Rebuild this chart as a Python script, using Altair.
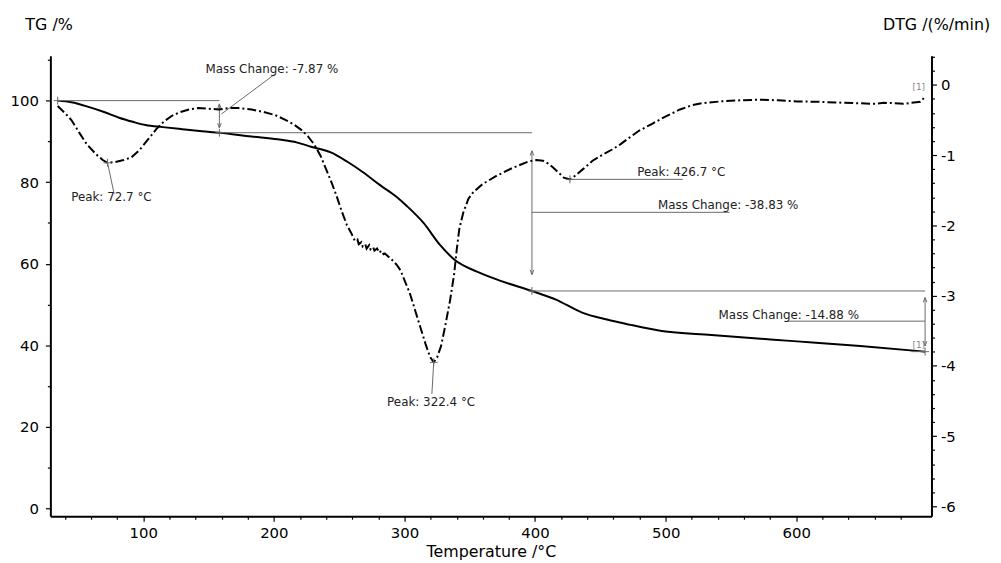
import altair as alt
import pandas as pd

FONT = "DejaVu Sans"

# ---------------- data ----------------
tg_temp = [34.5, 45, 58.7, 70, 81.5, 92, 101.8, 115, 129.6, 145, 158.3, 182.8, 203, 218,
           228.4, 243.6, 256.3, 268, 281.6, 294.3, 302, 314.6, 327.2, 338.6, 355, 375.4,
           397.6, 416, 436, 455, 471.6, 497, 535, 598, 649, 698.6]
tg_mass = [100.0, 99.6, 98.4, 97.2, 95.8, 94.8, 94.0, 93.5, 93.0, 92.5, 92.13, 91.2, 90.5, 89.7,
           88.7, 87.3, 85.0, 82.5, 79.2, 76.3, 74.1, 70.0, 64.6, 60.9, 58.1, 55.6,
           53.3, 51.2, 48.0, 46.3, 45.1, 43.5, 42.5, 41.0, 39.8, 38.42]

dtg_temp = [34.5, 40, 45, 51, 57, 64, 69, 72.7, 78, 85, 91, 97, 104, 110, 116, 122, 128, 135,
            142, 150, 158, 165, 173, 183, 193, 201, 208, 215, 221, 226, 231, 236, 240, 244,
            248, 252, 256, 259, 262, 264, 265, 267, 268, 270, 271, 273, 274, 276, 277, 279,
            281, 282, 284, 285, 288, 291, 294, 297, 300, 304, 308, 312, 316, 319.5, 322.4,
            325, 328, 331, 335, 338, 340, 342, 345, 349, 353, 360, 370, 383, 395, 401, 406,
            410, 414, 418, 422, 426.7, 431, 436, 444, 452, 459, 465, 470, 479, 490, 499,
            511, 520, 528, 545, 557, 572, 586, 601, 615, 630, 645, 660, 667, 674, 682, 690,
            695, 698.6]
dtg_rate = [-0.30, -0.40, -0.50, -0.68, -0.85, -0.99, -1.07, -1.11, -1.10, -1.07, -1.03, -0.93,
            -0.77, -0.63, -0.52, -0.44, -0.39, -0.35, -0.33, -0.34, -0.35, -0.33, -0.33, -0.35,
            -0.39, -0.43, -0.49, -0.56, -0.64, -0.73, -0.85, -1.02, -1.20, -1.38, -1.58, -1.80,
            -2.00, -2.10, -2.22, -2.20, -2.27, -2.24, -2.30, -2.27, -2.33, -2.28, -2.34, -2.31,
            -2.36, -2.33, -2.39, -2.36, -2.41, -2.40, -2.45, -2.50, -2.56, -2.64, -2.78, -2.96,
            -3.20, -3.44, -3.68, -3.87, -3.95, -3.88, -3.72, -3.45, -3.06, -2.70, -2.35, -2.05,
            -1.82, -1.62, -1.52, -1.41, -1.30, -1.18, -1.09, -1.07, -1.08, -1.12, -1.18, -1.25,
            -1.32, -1.345, -1.29, -1.21, -1.08, -0.99, -0.92, -0.85, -0.78, -0.66, -0.55, -0.46,
            -0.35, -0.29, -0.26, -0.23, -0.22, -0.21, -0.22, -0.235, -0.24, -0.25, -0.26, -0.27,
            -0.255, -0.26, -0.27, -0.25, -0.24, -0.17]

# mass-change steps (TG axis units)
mc_labels = ["Mass Change: -7.87 %", "Mass Change: -38.83 %", "Mass Change: -14.88 %"]
mc_label_t = [147.6, 494.1, 540.5]
mc_label_v = [106.7, 73.3, 46.4]
# reference lines
ref_t1 = [34.5, 158.3, 397.6, 688.0]
ref_t2 = [158.3, 397.6, 698.6, 698.6]
ref_v = [100.0, 92.13, 53.3, 38.42]
# double arrows
arr_t = [158.3, 397.6, 698.6]
arr_top = [99.2, 87.7, 51.7]
arr_bot = [93.3, 57.3, 39.8]
# leader lines for mass-change labels
mcl_t1 = [200.8, 397.6, 592.9]
mcl_t2 = [159.8, 548.9, 698.6]
mcl_v1 = [106.5, 72.6, 45.9]
mcl_v2 = [96.7, 72.6, 45.9]
# step markers
mk_t = [34.5, 158.3, 397.6, 698.6]
mk_v = [100.0, 92.13, 53.3, 38.42]

# peaks (DTG axis units)
pk_labels = ["Peak: 72.7 °C", "Peak: 322.4 °C", "Peak: 426.7 °C"]
pk_t = [72.7, 322.4, 426.7]
pk_v = [-1.11, -3.95, -1.345]
pk_label_t = [44.8, 286.7, 478.2]
pk_label_v = [-1.66, -4.57, -1.295]
pkl_t2 = [77.7, 321.0, 513.1]
pkl_v2 = [-1.55, -4.40, -1.345]

# curve end tags
tag_text = ["[1]", "[1]"]

# ---------------- frames ----------------
tg_df = pd.DataFrame({"T": tg_temp, "v": tg_mass})
dtg_df = pd.DataFrame({"T": dtg_temp, "v": dtg_rate})
ref_df = pd.DataFrame({"T": ref_t1, "T2": ref_t2, "v": ref_v, "v2": ref_v})
arr_df = pd.DataFrame({"T": arr_t, "T2": arr_t, "v": arr_top, "v2": arr_bot})
up_df = pd.DataFrame({"T": arr_t, "v": arr_top})
dn_df = pd.DataFrame({"T": arr_t, "v": arr_bot})
mcl_df = pd.DataFrame({"T": mcl_t1, "T2": mcl_t2, "v": mcl_v1, "v2": mcl_v2})
mk_df = pd.DataFrame({"T": mk_t, "v": mk_v})
mct_df = pd.DataFrame({"T": mc_label_t, "v": mc_label_v, "label": mc_labels})
tagl_df = pd.DataFrame({"T": [698.6], "v": [39.3], "label": [tag_text[1]]})

pk_df = pd.DataFrame({"T": pk_t, "v": pk_v})
pkl_df = pd.DataFrame({"T": pk_t, "T2": pkl_t2, "v": pk_v, "v2": pkl_v2})
pkt_df = pd.DataFrame({"T": pk_label_t, "v": pk_label_v, "label": pk_labels})
tagr_df = pd.DataFrame({"T": [698.6], "v": [-0.068], "label": [tag_text[0]]})

# ---------------- scales / axes ----------------
x_scale = alt.Scale(domain=[28.9, 703.5], nice=False, zero=False)
yl_scale = alt.Scale(domain=[-1.95, 111.0], nice=False, zero=False)
yr_scale = alt.Scale(domain=[-6.14, 0.414], nice=False, zero=False)

x_axis = alt.Axis(
    title="Temperature /°C",
    values=list(range(40, 681, 20)),
    labelExpr="datum.value % 100 === 0 ? datum.label : ''",
    tickSize={"condition": {"test": "datum.value % 100 === 0", "value": 5}, "value": 3},
    labelPadding=4, titleY=41, titleBaseline="alphabetic",
    grid=False,
)
yl_axis = alt.Axis(
    title="TG /%", orient="left",
    values=list(range(0, 111, 10)),
    labelExpr="datum.value % 20 === 0 ? datum.label : ''",
    tickSize={"condition": {"test": "datum.value % 20 === 0", "value": 5}, "value": 3},
    labelPadding=7, titleAngle=0, titleAlign="left", titleBaseline="alphabetic",
    titleX=-25.7, titleY=-26, grid=False,
)
yr_axis = alt.Axis(
    title="DTG /(%/min)", orient="right",
    values=[round(-6 + 0.2 * i, 1) for i in range(33)],
    labelExpr="abs(datum.value - round(datum.value)) < 0.001 ? toString(round(datum.value)) : ''",
    tickSize={"condition": {"test": "abs(datum.value - round(datum.value)) < 0.001", "value": 5}, "value": 3},
    labelPadding=4, titleAngle=0, titleAlign="right", titleBaseline="alphabetic",
    titleX=58.7, titleY=-26, grid=False,
)

X = lambda: alt.X("T:Q", scale=x_scale, axis=x_axis)
X2 = lambda: alt.X2("T2:Q")
YL = lambda: alt.Y("v:Q", scale=yl_scale, axis=yl_axis)
YR = lambda: alt.Y("v:Q", scale=yr_scale, axis=yr_axis)
Y2 = lambda: alt.Y2("v2:Q")

GRAY = "#6a6a6a"
CROSS = "M-1,0L1,0M0,-1L0,1"
DOWN = "M-0.6,-1.6L0,0L0.6,-1.6"
UP = "M-0.6,1.6L0,0L0.6,1.6"

# ---------------- left (TG) group ----------------
tg_line = alt.Chart(tg_df).mark_line(color="black", strokeWidth=2,
                                     interpolate="monotone").encode(
    x=X(), y=YL(), order="T:Q")
ref_rules = alt.Chart(ref_df).mark_rule(color=GRAY, strokeWidth=1).encode(
    x=X(), x2=X2(), y=YL(), y2=Y2())
arr_rules = alt.Chart(arr_df).mark_rule(color=GRAY, strokeWidth=1).encode(
    x=X(), x2=X2(), y=YL(), y2=Y2())
mcl_rules = alt.Chart(mcl_df).mark_rule(color=GRAY, strokeWidth=1).encode(
    x=X(), x2=X2(), y=YL(), y2=Y2())
up_pts = alt.Chart(up_df).mark_point(shape=UP, size=36, filled=False, stroke=GRAY,
                                     strokeWidth=1, opacity=1).encode(x=X(), y=YL())
dn_pts = alt.Chart(dn_df).mark_point(shape=DOWN, size=36, filled=False, stroke=GRAY,
                                     strokeWidth=1, opacity=1).encode(x=X(), y=YL())
mk_pts = alt.Chart(mk_df).mark_point(shape=CROSS, size=64, filled=False, stroke=GRAY,
                                     strokeWidth=1, opacity=1).encode(x=X(), y=YL())
mc_text = alt.Chart(mct_df).mark_text(align="left", baseline="alphabetic", font=FONT,
                                      fontSize=12, color="#222").encode(
    x=X(), y=YL(), text="label:N")
tagl = alt.Chart(tagl_df).mark_text(align="right", baseline="alphabetic", font=FONT,
                                    fontSize=9, color="#888").encode(
    x=X(), y=YL(), text="label:N")

left = alt.layer(tg_line, ref_rules, arr_rules, mcl_rules, up_pts, dn_pts, mk_pts, mc_text, tagl)

# ---------------- right (DTG) group ----------------
dtg_line = alt.Chart(dtg_df).mark_line(color="black", strokeWidth=2,
                                       strokeDash=[9, 3, 2, 3]).encode(
    x=X(), y=YR(), order="T:Q")
pk_rules = alt.Chart(pkl_df).mark_rule(color=GRAY, strokeWidth=1).encode(
    x=X(), x2=X2(), y=YR(), y2=Y2())
pk_pts = alt.Chart(pk_df).mark_point(shape=CROSS, size=64, filled=False, stroke=GRAY,
                                     strokeWidth=1, opacity=1).encode(x=X(), y=YR())
pk_text = alt.Chart(pkt_df).mark_text(align="left", baseline="alphabetic", font=FONT,
                                      fontSize=12, color="#222").encode(
    x=X(), y=YR(), text="label:N")
tagr = alt.Chart(tagr_df).mark_text(align="right", baseline="alphabetic", font=FONT,
                                    fontSize=9, color="#888").encode(
    x=X(), y=YR(), text="label:N")

right = alt.layer(dtg_line, pk_rules, pk_pts, pk_text, tagr)

chart = (
    alt.layer(left, right)
    .resolve_scale(y="independent")
    .properties(
        width=888, height=464,
        autosize=alt.AutoSizeParams(type="none"),
        padding={"left": 42.7, "top": 46, "right": 62, "bottom": 45},
        background="white",
    )
    .configure_view(stroke=None)
    .configure_axis(
        domainColor="black", domainWidth=2, tickColor="black", tickWidth=1.2,
        labelFont=FONT, labelFontSize=15, labelColor="black",
        titleFont=FONT, titleFontSize=16, titleFontWeight="normal", titleColor="black",
    )
)

chart.save("out.html", embed_options={"renderer": "svg", "actions": False})
